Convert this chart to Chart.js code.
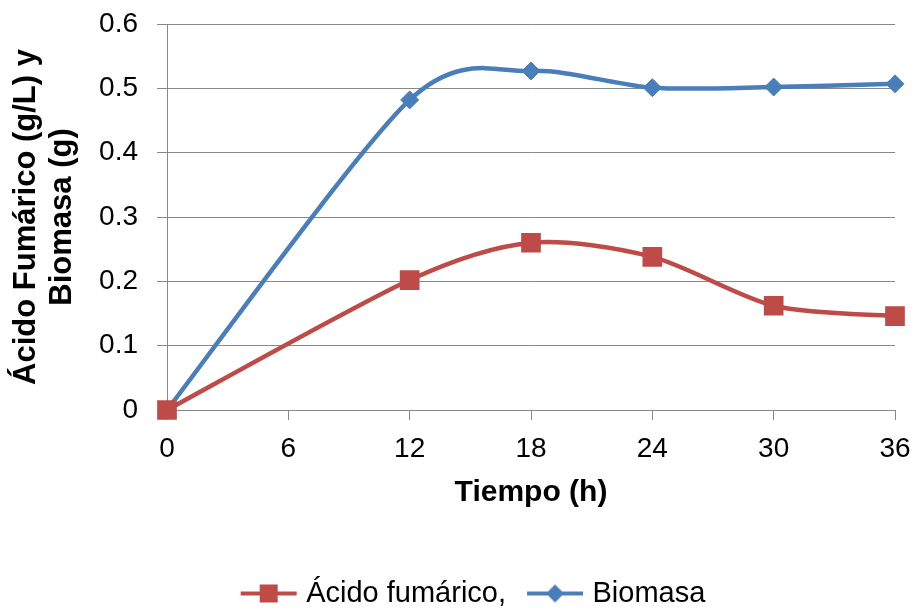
<!DOCTYPE html>
<html>
<head>
<meta charset="utf-8">
<script src="https://cdn.jsdelivr.net/npm/chart.js@4"></script>
<style>
  body { margin: 0; background: #fff; }
</style>
</head>
<body>
<canvas id="myChart" width="918" height="608"></canvas>
<script>
var horas = [0, 12, 18, 24, 30, 36];
var acidoFumarico = [0, 0.202, 0.260, 0.238, 0.162, 0.146];
var biomasa = [0, 0.482, 0.527, 0.501, 0.502, 0.507];

var rojo = 'rgb(190, 75, 72)';
var azul = 'rgb(74, 126, 187)';
var gris = '#888888';
var fuente = "'Liberation Sans', Arial, sans-serif";

function puntos(valores) {
  return horas.map(function (h, i) { return { x: h, y: valores[i] }; });
}

// small line + marker used as the legend symbol
function simbolo(color, forma) {
  var c = document.createElement('canvas');
  c.width = 58; c.height = 26;
  var g = c.getContext('2d');
  g.strokeStyle = color;
  g.lineWidth = 4;
  g.beginPath();
  g.moveTo(1, 13); g.lineTo(57, 13);
  g.stroke();
  g.fillStyle = color;
  if (forma === 'rect') {
    g.fillRect(20, 4, 18, 18);
  } else {
    g.beginPath();
    g.moveTo(29, 4); g.lineTo(38, 13); g.lineTo(29, 22); g.lineTo(20, 13);
    g.closePath();
    g.fill();
  }
  return c;
}
var simbolos = [simbolo(rojo, 'rect'), simbolo(azul, 'diamond')];

// spreadsheet-style smoothing: tangent at each point follows (next - prev)
var suavizado = {
  id: 'suavizado',
  beforeDatasetsDraw: function (chart) {
    chart.data.datasets.forEach(function (ds, i) {
      var meta = chart.getDatasetMeta(i);
      meta.dataset.updateControlPoints(chart.chartArea, 'x');
      var pts = meta.data;
      pts.forEach(function (p, k) {
        var a = pts[Math.max(k - 1, 0)];
        var b = pts[Math.min(k + 1, pts.length - 1)];
        var dx = (b.x - a.x) * 0.14, dy = (b.y - a.y) * 0.14;
        p.cp1x = p.x - dx; p.cp1y = p.y - dy;
        p.cp2x = p.x + dx; p.cp2y = p.y + dy;
      });
      meta.dataset._path = undefined;
    });
  }
};

var ctx = document.getElementById('myChart').getContext('2d');
var myChart = new Chart(ctx, {
  type: 'line',
  data: {
    datasets: [{
      label: 'Ácido fumárico,',
      data: puntos(acidoFumarico),
      borderColor: rojo,
      backgroundColor: rojo,
      borderWidth: 4.5,
      pointStyle: 'rect',
      pointRadius: 12.5,
      pointBorderWidth: 2,
      tension: 0.3,
      clip: false
    }, {
      label: 'Biomasa',
      data: puntos(biomasa),
      borderColor: azul,
      backgroundColor: azul,
      borderWidth: 4.5,
      pointStyle: 'rectRot',
      pointRadius: 9,
      pointBorderWidth: 1,
      tension: 0.3,
      clip: false
    }]
  },
  options: {
    responsive: false,
    animation: false,
    layout: { autoPadding: false, padding: { left: 56, right: 23, top: 24, bottom: -10 } },
    scales: {
      x: {
        type: 'linear',
        min: 0,
        max: 36,
        ticks: { stepSize: 6, color: '#000', padding: 12, font: { family: fuente, size: 28 } },
        grid: { drawOnChartArea: false, drawTicks: true, tickLength: 10, color: gris },
        border: { display: true, color: gris },
        title: {
          display: true,
          text: 'Tiempo (h)',
          color: '#000',
          font: { family: fuente, size: 30, weight: 'bold' },
          padding: { top: 0, bottom: 42 }
        },
        afterFit: function (scale) {
          scale.height = 143;
          scale.paddingLeft = 0;
          scale.paddingRight = 0;
        }
      },
      y: {
        min: 0,
        max: 0.6,
        ticks: {
          stepSize: 0.1,
          color: '#000',
          padding: 19,
          font: { family: fuente, size: 28 },
          callback: function (v) { return v === 0 ? '0' : v.toFixed(1); }
        },
        grid: { color: gris, tickLength: 10 },
        border: { display: true, color: gris },
        title: {
          display: true,
          text: ['Ácido Fumárico (g/L) y', 'Biomasa (g)'],
          color: '#000',
          font: { family: fuente, size: 31, weight: 'bold', lineHeight: 1.15 },
          padding: { top: -47, bottom: 0 }
        },
        afterFit: function (scale) {
          scale.width = 111;
          scale.paddingTop = 0;
          scale.paddingBottom = 0;
        }
      }
    },
    plugins: {
      legend: {
        position: 'bottom',
        labels: {
          usePointStyle: true,
          pointStyleWidth: 46,
          color: '#000',
          padding: 26,
          font: { family: fuente, size: 29 },
          generateLabels: function (chart) {
            var items = Chart.defaults.plugins.legend.labels.generateLabels(chart);
            items.forEach(function (it, i) { it.pointStyle = simbolos[i]; });
            return items;
          }
        }
      },
      tooltip: { enabled: false }
    }
  },
  plugins: [suavizado]
});
</script>
</body>
</html>
